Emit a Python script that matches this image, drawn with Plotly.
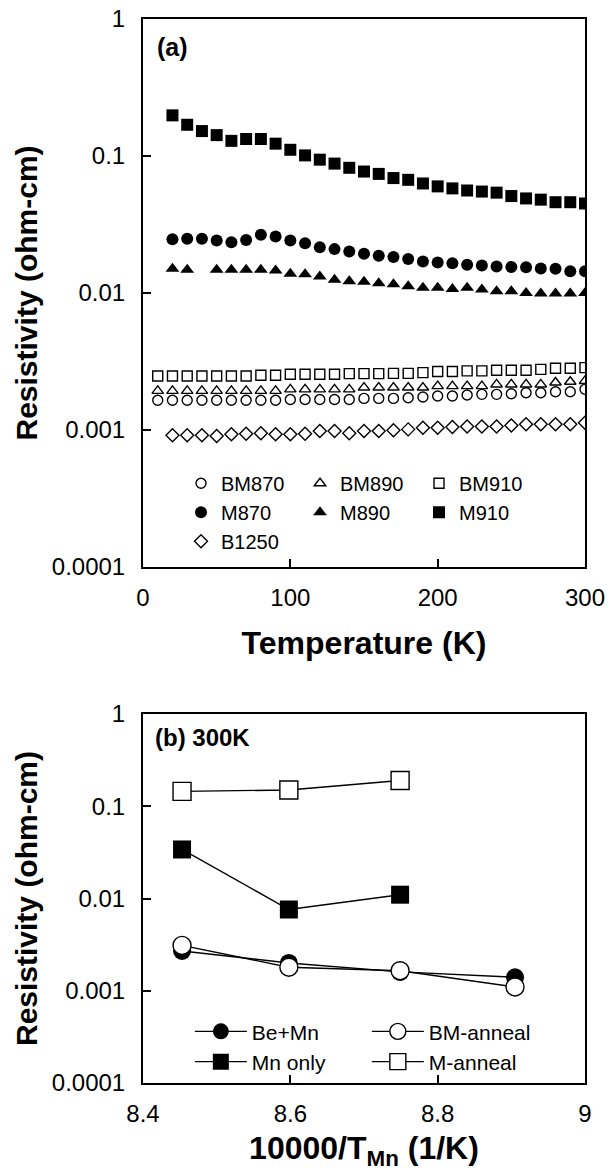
import plotly.graph_objects as go
from plotly.subplots import make_subplots

# ---------------- data: panel (a) ----------------
T_BM = [10, 20, 30, 40, 50, 60, 70, 80, 90, 100, 110, 120, 130, 140, 150,
        160, 170, 180, 190, 200, 210, 220, 230, 240, 250, 260, 270, 280, 290, 300]
T_M = [20, 30, 40, 50, 60, 70, 80, 90, 100, 110, 120, 130, 140, 150,
       160, 170, 180, 190, 200, 210, 220, 230, 240, 250, 260, 270, 280, 290, 300]
T_M890 = [20, 30, 50, 60, 70, 80, 90, 100, 110, 120, 130, 140, 150,
          160, 170, 180, 190, 200, 210, 220, 230, 240, 250, 260, 270, 280, 290, 300]

BM870 = [0.00165] * 9 + [0.00167] * 5 + [0.00170] * 3 + [0.00172, 0.00174, 0.00177, 0.00177,
         0.00180, 0.00182, 0.00182, 0.00184, 0.00187, 0.00187, 0.00190, 0.00190, 0.00198]
BM890 = [0.00193] * 9 + [0.00198] * 5 + [0.00204] * 5 + [0.00209] * 4 + [0.00215] * 4 + \
        [0.00222, 0.00225, 0.00228]
BM910 = [0.00248] * 7 + [0.00251, 0.00251, 0.00255, 0.00255, 0.00255, 0.00255, 0.00258, 0.00258,
         0.00258, 0.00259, 0.00259, 0.00262, 0.00267, 0.00267, 0.00270, 0.00270, 0.00273,
         0.00273, 0.00273, 0.00277, 0.00282, 0.00282, 0.00285]
M870 = [0.0247, 0.0249, 0.0249, 0.0242, 0.0235, 0.0244, 0.0266, 0.0258, 0.0242, 0.0231,
        0.0216, 0.0209, 0.0201, 0.0193, 0.0187, 0.0183, 0.0177, 0.0170, 0.0167, 0.0165,
        0.0161, 0.0159, 0.0156, 0.0155, 0.0154, 0.0151, 0.0150, 0.0144, 0.0144]
M890 = [0.0150, 0.0148, 0.0148, 0.0148, 0.0148, 0.0148, 0.0146, 0.0138, 0.0137, 0.0132,
        0.0125, 0.0122, 0.0121, 0.0118, 0.0116, 0.0112, 0.0109, 0.0109, 0.0107, 0.0109,
        0.0106, 0.0103, 0.0103, 0.0100, 0.0099, 0.0099, 0.0099, 0.0100]
M910 = [0.198, 0.169, 0.152, 0.142, 0.129, 0.133, 0.133, 0.123, 0.111, 0.101, 0.094, 0.088,
        0.082, 0.077, 0.074, 0.069, 0.067, 0.063, 0.060, 0.058, 0.056, 0.055, 0.054, 0.051,
        0.049, 0.048, 0.046, 0.046, 0.045]
B1250 = [0.000914, 0.000914, 0.000914, 0.000904, 0.000930, 0.000940, 0.000946, 0.000930,
         0.000930, 0.000940, 0.000983, 0.000983, 0.000946, 0.000983, 0.000983, 0.000994,
         0.00101, 0.00104, 0.00104, 0.00105, 0.00106, 0.00106, 0.00106, 0.00108, 0.00110,
         0.00110, 0.00110, 0.00110, 0.00113]

# ---------------- data: panel (b) ----------------
x_BM = [8.453, 8.598, 8.749, 8.905]
x_M = [8.453, 8.598, 8.749]
BeMn = [0.0027, 0.0020, 0.0016, 0.0014]
BM_anneal = [0.0031, 0.0018, 0.00165, 0.0011]
Mn_only = [0.034, 0.0076, 0.011]
M_anneal = [0.145, 0.150, 0.190]

y_tickvals = [0.0001, 0.001, 0.01, 0.1, 1]
y_ticktext = ["0.0001", "0.001", "0.01", "0.1", "1"]

FONT = "Liberation Sans, Arial, Helvetica, sans-serif"
BLACK = "black"

fig = make_subplots(rows=2, cols=1)
fig.update_layout(
    xaxis=dict(domain=[0, 1], anchor="y"),
    yaxis=dict(domain=[0.485, 1.0], anchor="x"),
    xaxis2=dict(domain=[0, 1], anchor="y2"),
    yaxis2=dict(domain=[0.0, 0.3468], anchor="x2"),
)

def open_marker(symbol, size):
    return dict(symbol=symbol, size=size, color="white", line=dict(color=BLACK, width=1.4))

def filled_marker(symbol, size):
    return dict(symbol=symbol, size=size, color=BLACK, line=dict(color=BLACK, width=0))

top = [
    ("BM870", T_BM, BM870, open_marker("circle", 10)),
    ("BM890", T_BM, BM890, open_marker("triangle-up", 10)),
    ("BM910", T_BM, BM910, open_marker("square", 10)),
    ("M870", T_M, M870, filled_marker("circle", 12)),
    ("M890", T_M890, M890, filled_marker("triangle-up", 12)),
    ("M910", T_M, M910, filled_marker("square", 12)),
    ("B1250", T_M, B1250, open_marker("diamond", 10)),
]
for name, xs, ys, mk in top:
    fig.add_trace(go.Scatter(x=xs, y=ys, name=name, mode="markers", marker=mk,
                             legend="legend", showlegend=True), row=1, col=1)

bottom = [
    ("Be+Mn", x_BM, BeMn, filled_marker("circle", 18)),
    ("BM-anneal", x_BM, BM_anneal, open_marker("circle", 18)),
    ("Mn only", x_M, Mn_only, filled_marker("square", 18)),
    ("M-anneal", x_M, M_anneal, open_marker("square", 18)),
]
for name, xs, ys, mk in bottom:
    fig.add_trace(go.Scatter(x=xs, y=ys, name=name, mode="lines+markers", marker=mk,
                             line=dict(color=BLACK, width=1.4),
                             legend="legend2", showlegend=True), row=2, col=1)

axis_common = dict(showline=True, linecolor=BLACK, linewidth=2, mirror=True,
                   ticks="inside", ticklen=8, tickwidth=1.5, tickcolor=BLACK,
                   showgrid=False, zeroline=False, automargin=False,
                   tickfont=dict(family=FONT, size=24, color=BLACK))
xtitle_font = dict(family=FONT, size=32, color=BLACK, weight="bold")
ytitle_font = dict(family=FONT, size=30, color=BLACK, weight="bold")

fig.update_xaxes(axis_common)
fig.update_yaxes(axis_common)

fig.update_xaxes(row=1, col=1, range=[0, 300], tickvals=[0, 100, 200, 300],
                 ticktext=["0", "100", "200", "300"], ticklabelstandoff=8,
                 title=dict(text="Temperature (K)", font=xtitle_font, standoff=22))
fig.update_yaxes(row=1, col=1, type="log", range=[-4, 0], tickvals=y_tickvals,
                 ticktext=y_ticktext, ticklabelstandoff=11,
                 title=dict(text="Resistivity (ohm-cm)", font=ytitle_font, standoff=5))
fig.update_xaxes(row=2, col=1, range=[8.4, 9.0], tickvals=[8.4, 8.6, 8.8, 9.0],
                 ticktext=["8.4", "8.6", "8.8", "9"], ticklabelstandoff=8,
                 title=dict(text="10000/T<sub>Mn</sub> (1/K)", font=xtitle_font, standoff=38))
fig.update_yaxes(row=2, col=1, type="log", range=[-4, 0], tickvals=y_tickvals,
                 ticktext=y_ticktext, ticklabelstandoff=11,
                 title=dict(text="Resistivity (ohm-cm)", font=ytitle_font, standoff=5))

fig.update_layout(
    width=612, height=1171,
    margin=dict(l=143, r=27, t=19, b=88),
    paper_bgcolor="white", plot_bgcolor="white",
    font=dict(family=FONT, color=BLACK),
    legend=dict(orientation="h", x=0.086, y=0.582, xanchor="left", yanchor="top",
                entrywidth=74, entrywidthmode="pixels", itemwidth=30,
                bgcolor="rgba(0,0,0,0)", borderwidth=0,
                font=dict(family=FONT, size=20, color=BLACK), traceorder="normal"),
    legend2=dict(orientation="h", x=0.106, y=0.0675, xanchor="left", yanchor="top",
                 entrywidth=110, entrywidthmode="pixels", itemwidth=52,
                 bgcolor="rgba(0,0,0,0)", borderwidth=0,
                 font=dict(family=FONT, size=21, color=BLACK), traceorder="normal"),
    annotations=[
        dict(text="<b>(a)</b>", xref="x domain", yref="y domain", x=0.027, y=0.949,
             xanchor="left", yanchor="middle", showarrow=False,
             font=dict(family=FONT, size=25, color=BLACK)),
        dict(text="<b>(b) 300K</b>", xref="x2 domain", yref="y2 domain", x=0.023, y=0.935,
             xanchor="left", yanchor="middle", showarrow=False,
             font=dict(family=FONT, size=24, color=BLACK)),
    ],
)

fig.write_html("out.html",
               config={"displayModeBar": False},
               post_script="document.body.style.margin='0';document.body.style.overflow='hidden';")
